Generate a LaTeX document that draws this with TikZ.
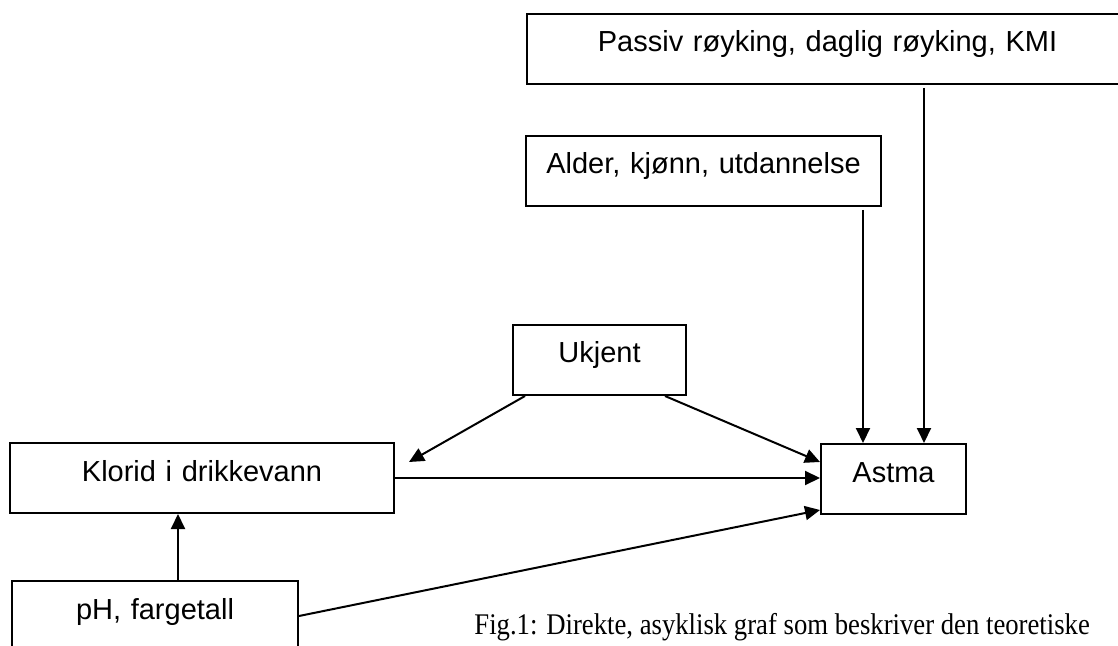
\documentclass[tikz,border=0pt]{standalone}
\usepackage{fontspec}
\setmainfont{Liberation Serif}
\newfontfamily\sansbox{Liberation Sans}
\newfontfamily\capfont[FakeStretch=0.89]{Liberation Serif}
\usetikzlibrary{arrows.meta,calc}

\begin{document}
\begin{tikzpicture}[x=0.5pt,y=-0.5pt,
    box/.style={draw,line width=1pt,inner sep=0pt,text height=19pt,text depth=16pt,align=center,anchor=north west,font=\sansbox\fontsize{14.5}{17}\selectfont},
    arr/.style={-{Triangle[length=7.5pt,width=7pt]},line width=1pt}]
    % --- frame
    \useasboundingbox (0,0) rectangle (1118,646);

    % --- boxes
    \node[box,text width=300.5pt] (passiv) at (526,13)  {Passiv røyking, daglig røyking, KMI};
    \node[box,text width=177.5pt] (alder)  at (525,135) {Alder, kjønn, utdannelse};
    \node[box,text width=86.5pt]  (ukjent) at (512,324) {Ukjent};
    \node[box,text width=192pt]   (klorid) at (9,442)   {Klorid i drikkevann};
    \node[box,text width=72.5pt]  (astma)  at (820,443) {Astma};
    \node[box,text width=143pt]   (ph)     at (11,580)  {pH, fargetall};

    % --- caption
    \node[anchor=base west,inner sep=0pt,font=\capfont\fontsize{15}{18}\selectfont] (caption) at (474,634) {Fig.1: Direkte, asyklisk graf som beskriver den teoretiske};

    % --- edges
    \draw[arr] ($(ukjent.south west)+(13,0)$) -- ($(klorid.north east)+(14,20)$);
    \draw[arr] ($(ukjent.south east)+(-22,0)$) -- ($(astma.north west)+(0,19)$);
    \draw[arr] (klorid.east) -- (klorid.east -| astma.west);
    \draw[arr] (ph.east) -- ($(astma.south west)+(0,-5)$);
    \draw[arr] ($(ph.north)+(23,0)$) coordinate (phup) -- (phup |- klorid.south);
    % vertical ones into Astma
    \draw[arr] ($(alder.south east)+(-19,3)$) coordinate (aldown) -- (aldown |- astma.north);
    \draw[arr] ($(passiv.south -| astma.north east)+(-43,3)$) coordinate (pdown) -- (pdown |- astma.north);
\end{tikzpicture}
\end{document}
